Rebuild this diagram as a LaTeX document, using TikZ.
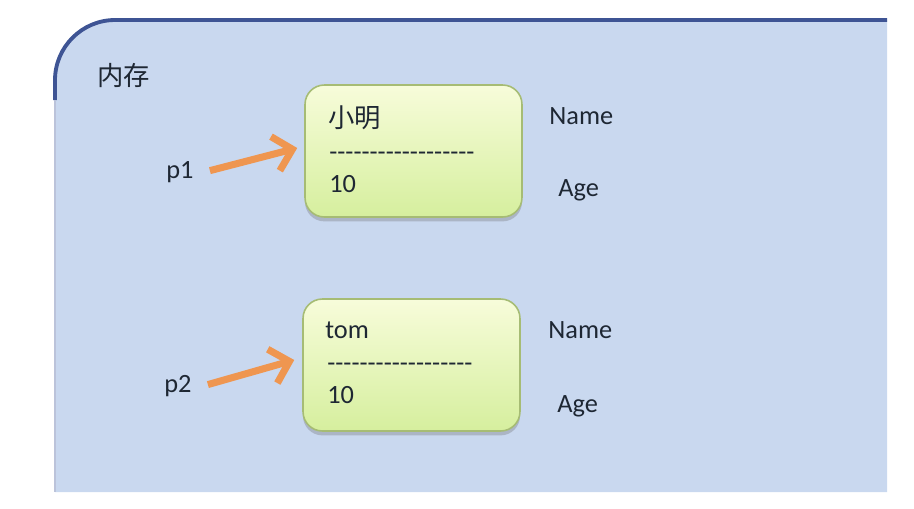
\documentclass[tikz,border=0pt]{standalone}
\usepackage{fontspec}
\setmainfont{Carlito}
\newfontfamily\cjk{Noto Sans CJK SC}
\usetikzlibrary{calc,arrows.meta,shadows}
\definecolor{memblue}{HTML}{C9D8EF}
\definecolor{memedge}{HTML}{3E5494}
\definecolor{boxtop}{HTML}{F7FCDA}
\definecolor{boxbot}{HTML}{D6EF9E}
\definecolor{boxedge}{HTML}{A6BC74}
\definecolor{ptrorange}{HTML}{EF9650}
\definecolor{txtgray}{HTML}{1E2733}

\newcommand{\sepline}{\foreach \i in {1,...,18}{-}}

\tikzset{
  objbox/.style={draw=boxedge, line width=0.9pt, rounded corners=11pt,
    top color=boxtop, bottom color=boxbot,
    minimum width=4.34cm, minimum height=2.64cm, inner sep=0pt,
    drop shadow={shadow xshift=0pt, shadow yshift=-2.5pt, opacity=0.3, fill=black!60}},
  lbl/.style={font=\fontsize{15}{17}\selectfont, text=txtgray, inner sep=0pt, anchor=base west},
  cjklbl/.style={lbl, font=\cjk\fontsize{15}{17}\selectfont},
  ptr/.style={draw=ptrorange, line width=4pt,
    -{Straight Barb[length=10pt,width=20pt,line width=4pt]}}
}

\begin{document}
\begin{tikzpicture}[x=0.02cm,y=-0.02cm]
	\useasboundingbox (0,0) rectangle (914,508);
	% memory panel
	\fill[memblue] (55,492) -- (55,80) .. controls (55,47) and (82,20) .. (115,20) -- (887,20) -- (887,492) -- cycle;
	\draw[memedge, line width=2.2pt] (55,100) -- (55,80) .. controls (55,47) and (82,20) .. (115,20) -- (887,20);
	\draw[memedge!35, line width=0.6pt] (55,100) -- (55,492);
	\node[cjklbl] (mem) at (97,85) {内存};

	% object boxes
	\node[objbox] (obj1) at (413.5,151) {};
	\node[objbox] (obj2) at (411.5,365) {};

	% fields of p1
	\node[cjklbl] (name1) at (328,127) {小明};
	\node[lbl] (sep1) at (329,160) {\sepline};
	\node[lbl] (age1) at (329,192) {10};
	\node[lbl] (nlab1) at (549,124) {Name};
	\node[lbl] (alab1) at (558,196) {Age};

	% fields of p2
	\node[lbl] (name2) at (325,338) {tom};
	\node[lbl] (sep2) at (327,371) {\sepline};
	\node[lbl] (age2) at (327,403) {10};
	\node[lbl] (nlab2) at (548,338) {Name};
	\node[lbl] (alab2) at (557,412) {Age};

	% references
	\node[lbl] (p1) at (166,178) {p1};
	\node[lbl] (p2) at (164,392) {p2};
	\draw[ptr] ($(p1.east)+(16,-1)$) -- ($(obj1.west)+(-7,-3)$);
	\draw[ptr] ($(p2.east)+(16,-1)$) -- ($(obj2.west)+(-8,-5)$);
\end{tikzpicture}
\end{document}
